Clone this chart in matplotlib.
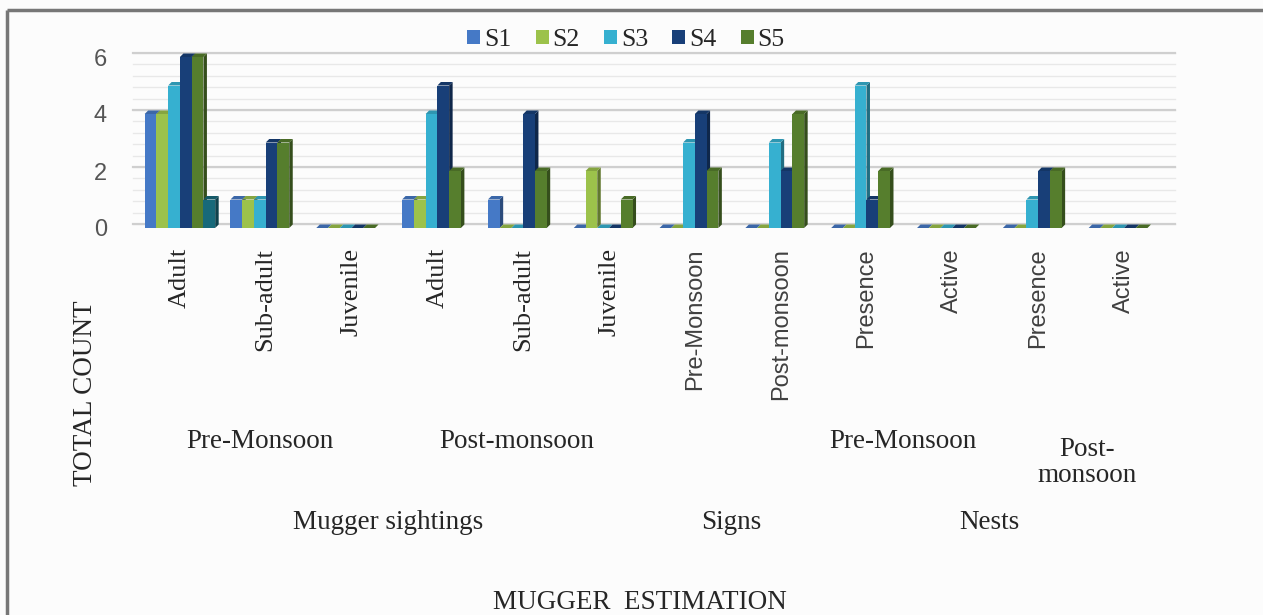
import numpy as np
import matplotlib
matplotlib.use("Agg")
import matplotlib.pyplot as plt
import matplotlib.colors as mcolors
from matplotlib.patches import Polygon, Rectangle
from matplotlib.lines import Line2D
from matplotlib.font_manager import FontProperties
from matplotlib.transforms import ScaledTranslation, blended_transform_factory

# ---- data -------------------------------------------------------------
categories = ["Adult", "Sub-adult", "Juvenile", "Adult", "Sub-adult", "Juvenile",
              "Pre-Monsoon", "Post-monsoon", "Presence", "Active", "Presence", "Active"]
season_labels = ["Pre-Monsoon", "Post-monsoon", "Pre-Monsoon", "Post-\nmonsoon"]
season_spans = [(0, 2), (3, 5), (8, 9), (10, 11)]
section_labels = ["Mugger sightings", "Signs", "Nests"]
section_spans = [(0, 5), (6, 7), (8, 11)]

series_names = ["S1", "S2", "S3", "S4", "S5"]
s1 = [4, 1, 0, 1, 1, 0, 0, 0, 0, 0, 0, 0]
s2 = [4, 1, 0, 1, 0, 2, 0, 0, 0, 0, 0, 0]
s3 = [5, 1, 0, 4, 0, 0, 3, 3, 5, 0, 1, 0]
s4 = [6, 3, 0, 5, 4, 0, 4, 2, 1, 0, 2, 0]
s5 = [6, 3, 0, 2, 2, 1, 2, 4, 2, 0, 2, 0]
# sixth column without a legend entry (single value)
s6 = [1, np.nan, np.nan, np.nan, np.nan, np.nan,
      np.nan, np.nan, np.nan, np.nan, np.nan, np.nan]

all_series = [s1, s2, s3, s4, s5, s6]
colors = ["#4579c6", "#9cc24b", "#36b0d0", "#183f78", "#567e2d", "#17697a"]

y_ticks = [0, 2, 4, 6]

# ---- figure -----------------------------------------------------------
W, H = 1263, 615
fig = plt.figure(figsize=(W / 100, H / 100), dpi=100, facecolor="#fcfcfc")


def px_rect(x0, y0, x1, y1):
    return [x0 / W, 1 - y1 / H, (x1 - x0) / W, (y1 - y0) / H]


ax = fig.add_axes(px_rect(137, 57, 1172, 228))
ax.set_facecolor("none")
XMIN, XMAX = -0.5, 11.56
ax.set_xlim(XMIN, XMAX)
ax.set_ylim(0, 6)
for sp in ax.spines.values():
    sp.set_visible(False)

serif = "Liberation Serif"
sans = "Liberation Sans"
dark = "#262626"
grey_txt = "#404040"

# back-wall gridlines, lifted a few pixels for the depth effect
grid_tr = blended_transform_factory(ax.transAxes, ax.transData) + \
    ScaledTranslation(0, 0.04, fig.dpi_scale_trans)
minor = np.arange(0, 6.01, 0.4)
for v in minor:
    ax.plot([-0.004, 1.003], [v, v], transform=grid_tr, color="#e8e8e8",
            lw=1.0, zorder=1, clip_on=False)
for v in y_ticks:
    ax.plot([-0.004, 1.003], [v, v], transform=grid_tr, color="#cfcfcf",
            lw=1.6, zorder=1.1, clip_on=False)

# ---- 3-D looking clustered columns -------------------------------------
ax_w_px = 1172 - 137
ax_h_px = 228 - 57
dx = 3.5 * (XMAX - XMIN) / ax_w_px
dy = 3.5 * 6 / ax_h_px
bw = 0.137
xs = np.arange(len(categories))


def shade(c, f):
    r, g, b = mcolors.to_rgb(c)
    return (r * f, g * f, b * f)


for i, (vals, col) in enumerate(zip(all_series, colors)):
    vals = np.asarray(vals, dtype=float)
    pos = xs + (i - 2.5) * bw
    ok = np.isfinite(vals)
    ax.bar(pos[ok], vals[ok], width=bw, color=col, linewidth=0,
           zorder=4 + 2 * i, clip_on=False)
    for x, v in zip(pos[ok], vals[ok]):
        x0, x1 = x - bw / 2, x + bw / 2
        side = Polygon([(x1, 0), (x1 + dx, dy), (x1 + dx, v + dy), (x1, v)],
                       closed=True, fc=shade(col, 0.62), ec="none",
                       zorder=3 + 2 * i, clip_on=False)
        top = Polygon([(x0, v), (x1, v), (x1 + dx, v + dy), (x0 + dx, v + dy)],
                      closed=True, fc=shade(col, 0.85), ec="none",
                      zorder=3 + 2 * i, clip_on=False)
        ax.add_patch(side)
        ax.add_patch(top)

# ---- ticks -------------------------------------------------------------
ax.set_yticks(y_ticks)
ax.set_yticklabels([str(t) for t in y_ticks], fontfamily=sans, fontsize=17,
                   color="#555555")
ax.tick_params(axis="y", length=0, pad=21.6)

ax.set_xticks(xs)
ax.set_xticklabels(categories, rotation=90, va="top", ha="center")
for k, lbl in enumerate(ax.get_xticklabels()):
    if k < 6:
        lbl.set_fontfamily(serif)
        lbl.set_fontsize(19)
        lbl.set_color(dark)
    else:
        lbl.set_fontfamily(sans)
        lbl.set_fontsize(17)
        lbl.set_color(grey_txt)
ax.tick_params(axis="x", length=0, pad=14.4)

# ---- grouped category labels -------------------------------------------
tr = blended_transform_factory(ax.transData, fig.transFigure)
for text, (a, b) in zip(season_labels, season_spans):
    wrapped = "\n" in text
    top = 437 if wrapped else 429
    shift = 0.07 if wrapped else -0.07
    fig.text((a + b) / 2 + shift, 1 - top / H, text, transform=tr,
             ha="center", va="top", fontfamily=serif, fontsize=19.5,
             color=dark, linespacing=1.05, multialignment="center")
for text, (a, b) in zip(section_labels, section_spans):
    fig.text((a + b) / 2 - 0.07, 1 - 510 / H, text, transform=tr,
             ha="center", va="top", fontfamily=serif, fontsize=19.5, color=dark)

fig.text(640 / W, 1 - 590 / H, "MUGGER  ESTIMATION", ha="center", va="top",
         fontfamily=serif, fontsize=19.5, color=dark)
fig.text(85 / W, 1 - 393 / H, "TOTAL COUNT", rotation=90, ha="center",
         va="center", fontfamily=serif, fontsize=19.5, color=dark)

# ---- legend ------------------------------------------------------------
handles = [Rectangle((0, 0), 1, 1, fc=c, ec="none") for c in colors[:5]]
fig.legend(handles, series_names, loc="center",
           bbox_to_anchor=(626 / W, 1 - 40 / H), ncol=5, frameon=False,
           prop=FontProperties(family=serif, size=18.5),
           handlelength=0.5, handleheight=0.5, handletextpad=0.15,
           columnspacing=0.95, labelcolor=dark)

# ---- outer frame (top and left edges) -----------------------------------
frame_kw = dict(transform=fig.transFigure, color="#777777", lw=2.5,
                solid_capstyle="butt")
fig.add_artist(Line2D([6.5 / W, 1.0], [1 - 10 / H, 1 - 10 / H], **frame_kw))
fig.add_artist(Line2D([6.5 / W, 6.5 / W], [0.0, 1 - 10 / H], **frame_kw))

fig.savefig("out.png", dpi=100, facecolor=fig.get_facecolor())
